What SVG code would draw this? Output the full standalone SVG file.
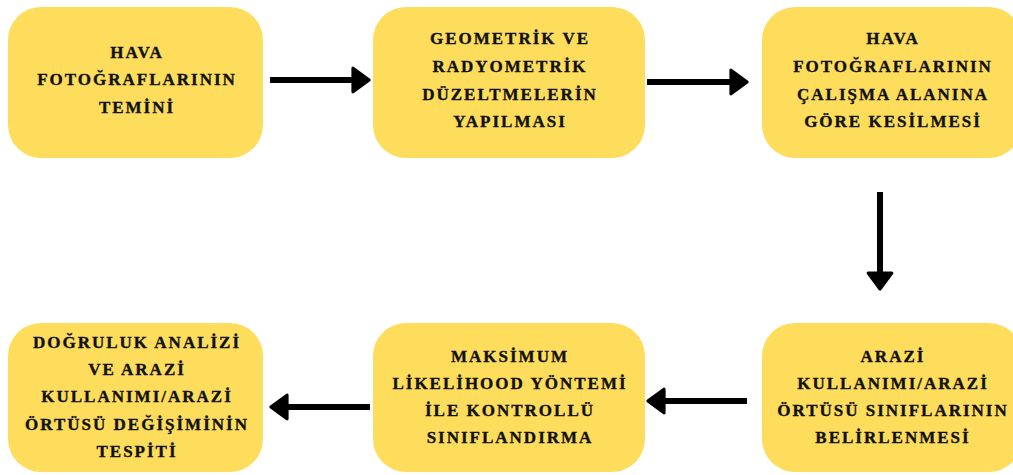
<svg xmlns="http://www.w3.org/2000/svg" width="1013" height="475" viewBox="0 0 1013 475">
<style>
.box{fill:#FEDC5C;}
.c{stroke:#000;stroke-width:6;fill:none;}
</style>
<defs>
<marker id="ah" markerUnits="userSpaceOnUse" markerWidth="30" markerHeight="30" viewBox="-2 -14 22 28" refX="0" refY="0" orient="auto" overflow="visible">
<path d="M0,-11 L15,0 L0,11 Z" fill="#000" stroke="#000" stroke-width="3" stroke-linejoin="round"/>
</marker>
</defs>
<rect width="1013" height="475" fill="#fff"/>
<g id="n1"><rect class="box" x="8" y="7" width="255" height="151" rx="33"/>
<text font-family="Liberation Serif" font-weight="bold" font-size="17" letter-spacing="2" fill="#111" stroke="#111" stroke-width="0.35" text-anchor="middle"><tspan x="137" y="58">HAVA</tspan><tspan x="137" y="85">FOTOĞRAFLARININ</tspan><tspan x="137" y="113">TEMİNİ</tspan></text></g>
<g id="n2"><rect class="box" x="373" y="7" width="272" height="151" rx="33"/>
<text font-family="Liberation Serif" font-weight="bold" font-size="17" letter-spacing="2" fill="#111" stroke="#111" stroke-width="0.35" text-anchor="middle"><tspan x="510" y="44">GEOMETRİK VE</tspan><tspan x="510" y="72">RADYOMETRİK</tspan><tspan x="510" y="100">DÜZELTMELERİN</tspan><tspan x="510" y="127">YAPILMASI</tspan></text></g>
<g id="n3"><rect class="box" x="762" y="7" width="260" height="151" rx="33"/>
<text font-family="Liberation Serif" font-weight="bold" font-size="17" letter-spacing="2" fill="#111" stroke="#111" stroke-width="0.35" text-anchor="middle"><tspan x="893" y="44">HAVA</tspan><tspan x="893" y="72">FOTOĞRAFLARININ</tspan><tspan x="893" y="100">ÇALIŞMA ALANINA</tspan><tspan x="893" y="127">GÖRE KESİLMESİ</tspan></text></g>
<g id="n4"><rect class="box" x="762" y="323" width="260" height="149" rx="33"/>
<text font-family="Liberation Serif" font-weight="bold" font-size="17" letter-spacing="2" fill="#111" stroke="#111" stroke-width="0.35" text-anchor="middle"><tspan x="893" y="362">ARAZİ</tspan><tspan x="893" y="389">KULLANIMI/ARAZİ</tspan><tspan x="893" y="416">ÖRTÜSÜ SINIFLARININ</tspan><tspan x="893" y="443">BELİRLENMESİ</tspan></text></g>
<g id="n5"><rect class="box" x="373" y="323" width="272" height="149" rx="33"/>
<text font-family="Liberation Serif" font-weight="bold" font-size="17" letter-spacing="2" fill="#111" stroke="#111" stroke-width="0.35" text-anchor="middle"><tspan x="510" y="362">MAKSİMUM</tspan><tspan x="510" y="389">LİKELİHOOD YÖNTEMİ</tspan><tspan x="510" y="416">İLE KONTROLLÜ</tspan><tspan x="510" y="443">SINIFLANDIRMA</tspan></text></g>
<g id="n6"><rect class="box" x="8" y="323" width="255" height="149" rx="33"/>
<text font-family="Liberation Serif" font-weight="bold" font-size="17" letter-spacing="2" fill="#111" stroke="#111" stroke-width="0.35" text-anchor="middle"><tspan x="137" y="348">DOĞRULUK ANALİZİ</tspan><tspan x="137" y="375">VE ARAZİ</tspan><tspan x="137" y="402">KULLANIMI/ARAZİ</tspan><tspan x="137" y="430">ÖRTÜSÜ DEĞİŞİMİNİN</tspan><tspan x="137" y="457">TESPİTİ</tspan></text></g>
<g id="connectors">
<line class="c" x1="270" y1="80" x2="353" y2="80" marker-end="url(#ah)"/>
<line class="c" x1="647" y1="82" x2="731" y2="82" marker-end="url(#ah)"/>
<line class="c" x1="880" y1="192" x2="880" y2="273" marker-end="url(#ah)"/>
<line class="c" x1="747" y1="401" x2="664" y2="401" marker-end="url(#ah)"/>
<line class="c" x1="370" y1="407" x2="287" y2="407" marker-end="url(#ah)"/>
</g>
</svg>
